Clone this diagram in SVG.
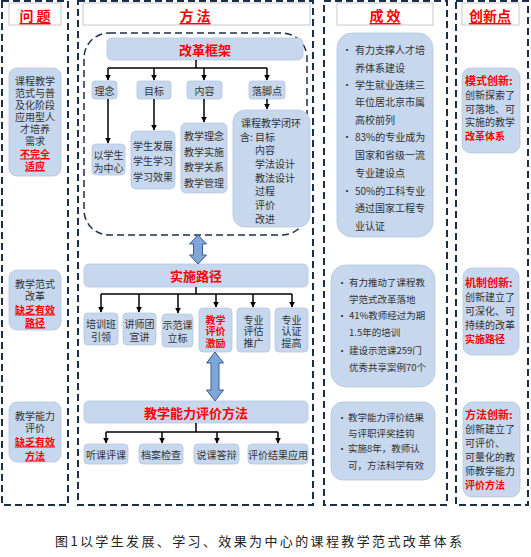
<svg xmlns="http://www.w3.org/2000/svg" width="531" height="557" viewBox="0 0 531 557">
<defs>
<marker id="ah" viewBox="0 0 10 10" refX="9" refY="5" markerWidth="6" markerHeight="6" orient="auto" markerUnits="userSpaceOnUse">
<path d="M0,0 L10,5 L0,10 z" fill="#000"/>
</marker>
<style>
text{font-family:"Noto Sans CJK SC","Noto Sans",sans-serif;dominant-baseline:central;}
.col{fill:none;stroke:#1c2f48;stroke-width:2;stroke-dasharray:7,4;}
.ttl{fill:#fff;stroke:#c8c8c8;stroke-width:1;}
.tt{font-size:14px;font-weight:bold;fill:#ff0000;text-anchor:middle;text-decoration:underline;}
.bx{fill:#c6d7ee;stroke:#b4c6de;stroke-width:0.8;}
.t{font-size:10px;fill:#333;}
.c{text-anchor:middle;}
.r{fill:#ff0000;font-weight:bold;}
.u{text-decoration:underline;}
.h{font-size:13px;font-weight:bold;fill:#ff0000;text-anchor:middle;}
.ln{fill:none;stroke:#000;stroke-width:1.5;}
.ar{stroke:#000;stroke-width:1.5;marker-end:url(#ah);}
.dbl{fill:#7fa6d8;stroke:#3b5f92;stroke-width:1;}
</style>
</defs>

<!-- Column frames -->
<g id="frames">
<rect class="col" x="2" y="1" width="66" height="504"/>
<rect class="col" x="78" y="1" width="235" height="504"/>
<rect class="col" x="324" y="1" width="123" height="504"/>
<rect class="col" x="456" y="1" width="72" height="504"/>
<rect class="col" x="84" y="33" width="223" height="202" rx="25" ry="25" style="stroke-width:1.5"/>
</g>

<!-- Titles -->
<g id="title-problem"><rect class="ttl" x="9" y="3" width="52" height="22"/><text class="tt" x="35" y="15">问 题</text></g>
<g id="title-method"><rect class="ttl" x="83" y="3" width="227" height="22"/><text class="tt" x="195" y="15">方 法</text></g>
<g id="title-effect"><rect class="ttl" x="337" y="3" width="96" height="22"/><text class="tt" x="385" y="15">成 效</text></g>
<g id="title-innov"><rect class="ttl" x="462" y="3" width="57" height="22"/><text class="tt" x="490" y="15">创新点</text></g>

<!-- Problem column -->
<g id="p1"><rect class="bx" x="9" y="68" width="52" height="108" rx="8"/>
<text class="t c" x="35" y="80">课程教学</text><text class="t c" x="35" y="92">范式与普</text><text class="t c" x="35" y="104">及化阶段</text><text class="t c" x="35" y="116">应用型人</text><text class="t c" x="35" y="128">才培养</text><text class="t c" x="35" y="140">需求</text>
<text class="t c r u" x="35" y="153">不完全</text><text class="t c r u" x="35" y="165">适应</text></g>
<g id="p2"><rect class="bx" x="9" y="270" width="52" height="60" rx="8"/>
<text class="t c" x="35" y="283">教学范式</text><text class="t c" x="35" y="295">改革</text><text class="t c r u" x="35" y="309">缺乏有效</text><text class="t c r u" x="35" y="322">路径</text></g>
<g id="p3"><rect class="bx" x="9" y="402" width="52" height="60" rx="8"/>
<text class="t c" x="35" y="415">教学能力</text><text class="t c" x="35" y="427">评价</text><text class="t c r u" x="35" y="441">缺乏有效</text><text class="t c r u" x="35" y="455">方法</text></g>

<!-- Method column -->
<g id="m-frame"><rect class="bx" x="107" y="38" width="196" height="22" rx="5"/><text class="h" x="205" y="49">改革框架</text></g>
<g id="m-ln"><rect class="bx" x="92" y="81" width="25" height="18" rx="3"/><text class="t c" x="104.5" y="90">理念</text></g>
<g id="m-mb"><rect class="bx" x="137" y="81" width="34" height="18" rx="3"/><text class="t c" x="154" y="90">目标</text></g>
<g id="m-nr"><rect class="bx" x="187" y="81" width="35" height="18" rx="3"/><text class="t c" x="204.5" y="90">内容</text></g>
<g id="m-ljd"><rect class="bx" x="249" y="81" width="36" height="18" rx="3"/><text class="t c" x="267" y="90">落脚点</text></g>
<g id="m-zx"><rect class="bx" x="92" y="144" width="33" height="31" rx="4"/><text class="t c" x="108.5" y="154">以学生</text><text class="t c" x="108.5" y="167">为中心</text></g>
<g id="m-xs"><rect class="bx" x="131" y="131" width="44" height="58" rx="5"/><text class="t c" x="153" y="145">学生发展</text><text class="t c" x="153" y="160">学生学习</text><text class="t c" x="153" y="176">学习效果</text></g>
<g id="m-jx"><rect class="bx" x="181" y="123" width="46" height="70" rx="5"/><text class="t c" x="204" y="135">教学理念</text><text class="t c" x="204" y="151">教学实施</text><text class="t c" x="204" y="166">教学关系</text><text class="t c" x="204" y="182">教学管理</text></g>
<g id="m-bh"><rect class="bx" x="233" y="110" width="77" height="117" rx="12"/>
<text class="t c" x="271" y="122">课程教学闭环</text>
<text class="t" x="240" y="136">含:</text><text class="t" x="255" y="136">目标</text>
<text class="t" x="255" y="149">内容</text><text class="t" x="255" y="163">学法设计</text><text class="t" x="255" y="177">教法设计</text><text class="t" x="255" y="190">过程</text><text class="t" x="255" y="204">评价</text><text class="t" x="255" y="218">改进</text></g>

<g id="m-path"><rect class="bx" x="84" y="264" width="224" height="23" rx="5"/><text class="h" x="196" y="275">实施路径</text></g>
<g id="s1"><rect class="bx" x="84" y="313" width="34" height="32" rx="4"/><text class="t c" x="101" y="323">培训班</text><text class="t c" x="101" y="336">引领</text></g>
<g id="s2"><rect class="bx" x="123" y="313" width="33" height="32" rx="4"/><text class="t c" x="139.5" y="323">讲师团</text><text class="t c" x="139.5" y="336">宣讲</text></g>
<g id="s3"><rect class="bx" x="162" y="314" width="31" height="33" rx="4"/><text class="t c" x="177.5" y="324">示范课</text><text class="t c" x="177.5" y="337">立标</text></g>
<g id="s4"><rect class="bx" x="199" y="308" width="33" height="44" rx="4"/><text class="t c r" x="215.5" y="319">教学</text><text class="t c r" x="215.5" y="330">评价</text><text class="t c r" x="215.5" y="342">激励</text></g>
<g id="s5"><rect class="bx" x="237" y="308" width="33" height="44" rx="4"/><text class="t c" x="253.5" y="319">专业</text><text class="t c" x="253.5" y="330">评估</text><text class="t c" x="253.5" y="342">推广</text></g>
<g id="s6"><rect class="bx" x="275" y="308" width="33" height="44" rx="4"/><text class="t c" x="291.5" y="319">专业</text><text class="t c" x="291.5" y="330">认证</text><text class="t c" x="291.5" y="342">提高</text></g>

<g id="m-eval"><rect class="bx" x="84" y="401" width="224" height="22" rx="5"/><text class="h" x="196" y="412">教学能力评价方法</text></g>
<g id="e1"><rect class="bx" x="84" y="444" width="44" height="20" rx="4"/><text class="t c" x="106" y="454">听课评课</text></g>
<g id="e2"><rect class="bx" x="139" y="444" width="44" height="20" rx="4"/><text class="t c" x="161" y="454">档案检查</text></g>
<g id="e3"><rect class="bx" x="194" y="444" width="45" height="20" rx="4"/><text class="t c" x="216.5" y="454">说课答辩</text></g>
<g id="e4"><rect class="bx" x="248" y="444" width="60" height="20" rx="4"/><text class="t c" x="278" y="454">评价结果应用</text></g>

<!-- Connectors -->
<g id="connectors">
<path class="ln" d="M196 60 V68 M108 68 H267"/>
<line class="ar" x1="108" y1="68" x2="108" y2="80"/>
<line class="ar" x1="154" y1="68" x2="154" y2="80"/>
<line class="ar" x1="204" y1="68" x2="204" y2="80"/>
<line class="ar" x1="267" y1="68" x2="267" y2="80"/>
<line class="ar" x1="108" y1="99" x2="108" y2="143"/>
<line class="ar" x1="154" y1="99" x2="154" y2="130"/>
<line class="ar" x1="204" y1="99" x2="204" y2="122"/>
<line class="ar" x1="267" y1="99" x2="267" y2="109"/>
<path class="ln" d="M196 287 V294 M101 294 H292"/>
<line class="ar" x1="101" y1="294" x2="101" y2="312"/>
<line class="ar" x1="139" y1="294" x2="139" y2="312"/>
<line class="ar" x1="178" y1="294" x2="178" y2="313"/>
<line class="ar" x1="216" y1="294" x2="216" y2="307"/>
<line class="ar" x1="253" y1="294" x2="253" y2="307"/>
<line class="ar" x1="292" y1="294" x2="292" y2="307"/>
<path class="ln" d="M196 423 V432 M106 432 H278"/>
<line class="ar" x1="106" y1="432" x2="106" y2="443"/>
<line class="ar" x1="162" y1="432" x2="162" y2="443"/>
<line class="ar" x1="217" y1="432" x2="217" y2="443"/>
<line class="ar" x1="278" y1="432" x2="278" y2="443"/>
<polygon class="dbl" points="198,235 206.5,244 202.5,244 202.5,255 206.5,255 198,264 189.5,255 193.5,255 193.5,244 189.5,244"/>
<polygon class="dbl" points="215,352 223.5,363 219,363 219,390 223.5,390 215,401 206.5,390 211,390 211,363 206.5,363"/>
</g>

<!-- Effect column -->
<g id="r1"><rect class="bx" x="337" y="33" width="96" height="204" rx="15"/>
<g class="t"><text x="342" y="49">•</text><text x="342" y="84">•</text><text x="342" y="136">•</text><text x="342" y="190">•</text></g>
<text class="t" x="355" y="49">有力支撑人才培</text><text class="t" x="355" y="67">养体系建设</text>
<text class="t" x="355" y="84">学生就业连续三</text><text class="t" x="355" y="101">年位居北京市属</text><text class="t" x="355" y="119">高校前列</text>
<text class="t" x="355" y="136">83%的专业成为</text><text class="t" x="355" y="154">国家和省级一流</text><text class="t" x="355" y="172">专业建设点</text>
<text class="t" x="355" y="190">50%的工科专业</text><text class="t" x="355" y="207">通过国家工程专</text><text class="t" x="355" y="225">业认证</text></g>
<g id="r2"><rect class="bx" x="331" y="265" width="104" height="122" rx="15"/>
<g class="t"><text x="337" y="282">•</text><text x="337" y="315">•</text><text x="337" y="350">•</text></g>
<text class="t" x="349" y="282" style="font-size:9.5px">有力推动了课程教</text><text class="t" x="349" y="299" style="font-size:9.5px">学范式改革落地</text>
<text class="t" x="349" y="315" style="font-size:9.5px">41%教师经过为期</text><text class="t" x="349" y="332" style="font-size:9.5px">1.5年的培训</text>
<text class="t" x="349" y="350" style="font-size:9.5px">建设示范课259门</text><text class="t" x="349" y="367" style="font-size:9.5px">优秀共享案例70个</text></g>
<g id="r3"><rect class="bx" x="331" y="402" width="104" height="78" rx="12"/>
<g class="t"><text x="337" y="417">•</text><text x="337" y="448">•</text></g>
<text class="t" x="348" y="417" style="font-size:9.5px">教学能力评价结果</text><text class="t" x="348" y="433" style="font-size:9.5px">与评职评奖挂钩</text>
<text class="t" x="348" y="448" style="font-size:9.5px">实施8年，教师认</text><text class="t" x="348" y="465" style="font-size:9.5px">可，方法科学有效</text></g>

<!-- Innovation column -->
<g id="i1"><rect class="bx" x="462" y="68" width="58" height="85" rx="9"/>
<text class="t r" x="465" y="80" style="font-size:11px">模式创新:</text>
<text class="t" x="465" y="94">创新探索了</text><text class="t" x="465" y="108">可落地、可</text><text class="t" x="465" y="121">实施的教学</text>
<text class="t r" x="465" y="135">改革体系</text></g>
<g id="i2"><rect class="bx" x="463" y="268" width="56" height="87" rx="9"/>
<text class="t r" x="465" y="282" style="font-size:11px">机制创新:</text>
<text class="t" x="465" y="296">创新建立了</text><text class="t" x="465" y="310">可深化、可</text><text class="t" x="465" y="324">持续的改革</text>
<text class="t r" x="465" y="338">实施路径</text></g>
<g id="i3"><rect class="bx" x="463" y="402" width="57" height="95" rx="9"/>
<text class="t r" x="465" y="414" style="font-size:11px">方法创新:</text>
<text class="t" x="465" y="428">创新建立了</text><text class="t" x="465" y="442">可评价、</text><text class="t" x="465" y="456">可量化的教</text><text class="t" x="465" y="470">师教学能力</text>
<text class="t r" x="465" y="484">评价方法</text></g>

<!-- Caption -->
<text x="55" y="540" textLength="407" lengthAdjust="spacing" style="font-size:13px;fill:#222">图1以学生发展、学习、效果为中心的课程教学范式改革体系</text>
</svg>
